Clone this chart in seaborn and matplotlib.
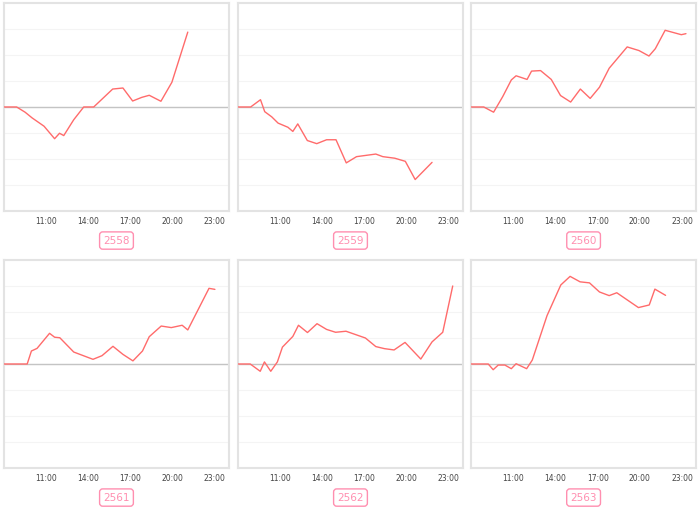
import pandas as pd
import matplotlib.pyplot as plt
import seaborn as sns

# hours of day (decimal) and relative values
years = ["2558", "2559", "2560", "2561", "2562", "2563"]

hours_2558 = [8.0, 8.9, 9.5, 10.0, 10.85, 11.6, 11.95, 12.25, 12.96, 13.67, 14.38, 15.73, 16.46, 17.15, 17.8, 18.33, 19.16, 19.94, 21.07]
vals_2558 = [0, 0, -0.2, -0.42, -0.74, -1.22, -1.01, -1.10, -0.49, 0, 0, 0.69, 0.73, 0.23, 0.37, 0.45, 0.22, 0.95, 2.88]

hours_2559 = [8.0, 8.9, 9.6, 9.9, 10.4, 10.85, 11.55, 11.9, 12.25, 12.93, 13.6, 14.3, 14.97, 15.7, 16.43, 17.8, 18.3, 19.15, 19.9, 20.6, 21.8]
vals_2559 = [0, 0, 0.28, -0.18, -0.38, -0.62, -0.78, -0.94, -0.65, -1.29, -1.41, -1.26, -1.26, -2.15, -1.91, -1.81, -1.91, -1.97, -2.09, -2.79, -2.13]

hours_2560 = [8.0, 8.9, 9.6, 10.25, 10.86, 11.2, 11.98, 12.3, 12.94, 13.7, 14.36, 15.08, 15.77, 16.47, 17.13, 17.82, 19.1, 19.94, 20.65, 21.1, 21.8, 22.95, 23.28]
vals_2560 = [0, 0, -0.2, 0.4, 1.04, 1.2, 1.06, 1.38, 1.4, 1.06, 0.44, 0.19, 0.69, 0.33, 0.76, 1.49, 2.31, 2.17, 1.96, 2.24, 2.95, 2.78, 2.82]

hours_2561 = [8.0, 9.65, 9.95, 10.35, 11.24, 11.6, 11.97, 12.96, 14.33, 14.97, 15.75, 16.46, 17.17, 17.85, 18.33, 19.18, 19.9, 20.67, 21.07, 22.58, 23.0]
vals_2561 = [0, 0, 0.5, 0.6, 1.18, 1.03, 1.01, 0.46, 0.18, 0.32, 0.68, 0.37, 0.12, 0.5, 1.05, 1.46, 1.4, 1.49, 1.31, 2.91, 2.87]

hours_2562 = [8.0, 8.87, 9.58, 9.88, 10.33, 10.8, 11.16, 11.9, 12.3, 12.94, 13.62, 14.3, 14.94, 15.68, 17.06, 17.8, 18.42, 19.1, 19.88, 21.0, 21.8, 22.56, 23.27]
vals_2562 = [0, 0, -0.28, 0.08, -0.28, 0.08, 0.65, 1.06, 1.49, 1.21, 1.55, 1.33, 1.22, 1.26, 1.0, 0.67, 0.59, 0.54, 0.83, 0.19, 0.85, 1.22, 3.0]

hours_2563 = [8.0, 9.22, 9.57, 9.93, 10.4, 10.86, 11.2, 11.95, 12.35, 13.4, 14.38, 15.04, 15.75, 16.42, 17.13, 17.82, 18.36, 19.9, 20.67, 21.07, 21.83]
vals_2563 = [0, 0, -0.22, -0.04, -0.04, -0.18, 0.01, -0.18, 0.15, 1.86, 3.04, 3.37, 3.16, 3.12, 2.77, 2.63, 2.74, 2.17, 2.27, 2.88, 2.64]

tick_hours = [11, 14, 17, 20, 23]
tick_labels = ["11:00", "14:00", "17:00", "20:00", "23:00"]

series = {
    "2558": (hours_2558, vals_2558),
    "2559": (hours_2559, vals_2559),
    "2560": (hours_2560, vals_2560),
    "2561": (hours_2561, vals_2561),
    "2562": (hours_2562, vals_2562),
    "2563": (hours_2563, vals_2563),
}
frames = [pd.DataFrame({"year": y, "hour": h, "value": v}) for y, (h, v) in series.items()]
df = pd.concat(frames, ignore_index=True)

sns.set_style("white")
plt.rcParams['font.family'] = ['DejaVu Sans']

line_color = "#ff6b6b"
pink = "#ff8fb0"

fig = plt.figure(figsize=(7, 5.13), dpi=100)
lefts = [0.0057, 0.34, 0.673]
bottoms = [0.5887, 0.0877]
w, h = 0.3214, 0.4055

for i, year in enumerate(years):
    row, col = divmod(i, 3)
    ax = fig.add_axes([lefts[col], bottoms[row], w, h])
    sub = df[df["year"] == year]
    ax.axhline(0, color="#c4c4c4", lw=1.0, zorder=1)
    sns.lineplot(data=sub, x="hour", y="value", ax=ax, color=line_color, lw=1.0, zorder=3)
    ax.set_xlim(8, 24)
    ax.set_ylim(-4, 4)
    ax.set_yticks(range(-3, 4))
    ax.yaxis.grid(True, color="#f4f4f4", lw=0.8)
    ax.set_yticklabels([])
    ax.tick_params(axis="y", length=0)
    ax.set_xticks(tick_hours)
    ax.set_xticklabels(tick_labels, fontsize=5.5, color="#444444")
    ax.tick_params(axis="x", length=0, pad=4)
    ax.set_xlabel("")
    ax.set_ylabel("")
    for s in ax.spines.values():
        s.set_color("#e3e3e3")
        s.set_linewidth(1.5)
    ax.text(0.5, -0.142, year, transform=ax.transAxes, ha="center", va="center",
            fontsize=7.5, color=pink,
            bbox=dict(boxstyle="round,pad=0.35,rounding_size=0.3", fc="white", ec=pink, lw=1.0))

fig.savefig("out.png", dpi=100)
